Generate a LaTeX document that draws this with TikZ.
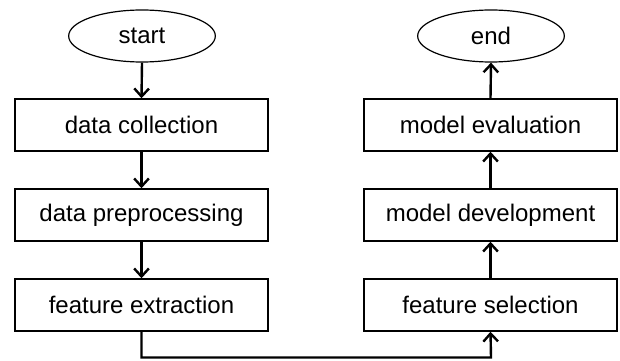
\documentclass[tikz,border=0pt]{standalone}
\usepackage{fontspec}
\setmainfont{Liberation Sans}
\usetikzlibrary{shapes.geometric,arrows.meta}
\begin{document}
\begin{tikzpicture}[x=0.75pt,y=-0.75pt,
  stepbox/.style={draw,line width=1.1pt,minimum width=189.75pt,minimum height=39pt,inner sep=0pt,font=\fontsize{18}{21}\selectfont},
  term/.style={draw,ellipse,line width=0.9pt,minimum width=110pt,minimum height=39pt,inner sep=0pt,font=\fontsize{18}{21}\selectfont},
  flow/.style={line width=1.8pt,-{Straight Barb[length=6pt,width=11pt,line width=1.8pt]}}]
\useasboundingbox (0,0) rectangle (620,360);
% left column
\node[term] (start) at (142,36) {start};
\node[stepbox] (coll) at (141.5,125) {data collection};
\node[stepbox] (prep) at (141.5,215) {data preprocessing};
\node[stepbox] (extr) at (141.5,305) {feature extraction};
% right column
\node[term] (end) at (491,36) {end};
\node[stepbox] (eval) at (490.5,125) {model evaluation};
\node[stepbox] (dev) at (490.5,215) {model development};
\node[stepbox] (sel) at (490.5,305) {feature selection};
\coordinate (c2) at (491,357.5);
% connectors
\draw[flow] (start.south) -- (coll.north);
\draw[flow] (coll.south) -- (prep.north);
\draw[flow] (prep.south) -- (extr.north);
\draw[flow] (extr.south) |- (c2) -- (sel.south);
\draw[flow] (sel.north) -- (dev.south);
\draw[flow] (dev.north) -- (eval.south);
\draw[flow] (eval.north) -- (end.south);
\end{tikzpicture}
\end{document}
